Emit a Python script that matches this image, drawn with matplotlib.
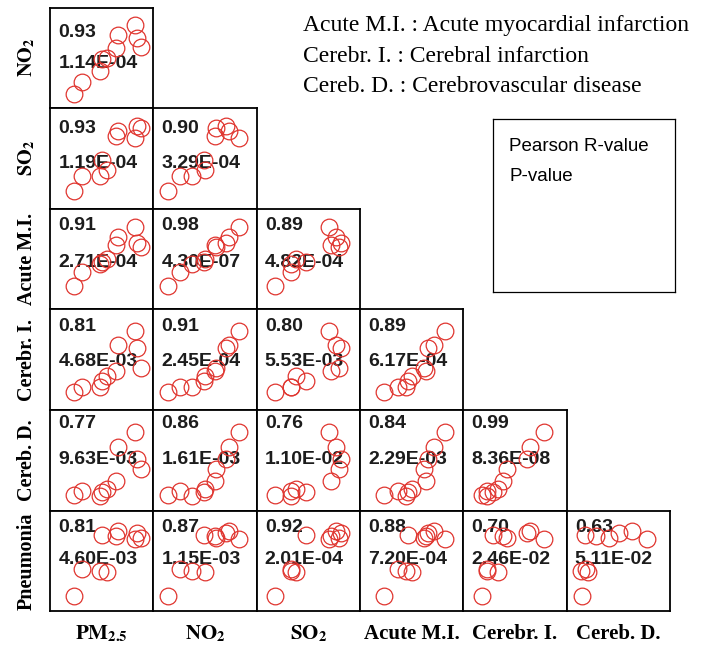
import matplotlib.pyplot as plt

plt.rcParams['mathtext.fontset'] = 'stix'

pm25 = [0.23, 0.31, 0.48, 0.50, 0.55, 0.64, 0.66, 0.82, 0.84, 0.88]
no2 = [0.14, 0.26, 0.37, 0.49, 0.50, 0.60, 0.73, 0.83, 0.70, 0.61]
so2 = [0.18, 0.33, 0.33, 0.48, 0.38, 0.72, 0.77, 0.70, 0.82, 0.80]
ami = [0.23, 0.37, 0.45, 0.47, 0.50, 0.64, 0.72, 0.82, 0.66, 0.62]
ci = [0.18, 0.23, 0.23, 0.29, 0.34, 0.39, 0.65, 0.78, 0.62, 0.42]
cd = [0.15, 0.19, 0.14, 0.18, 0.21, 0.29, 0.63, 0.78, 0.51, 0.41]
pneu = [0.15, 0.42, 0.40, 0.76, 0.39, 0.75, 0.80, 0.72, 0.78, 0.73]

variables = [pm25, no2, so2, ami, ci, cd, pneu]

col_labels = [r'$\mathbf{PM}_{\mathbf{2.5}}$', r'$\mathbf{NO}_{\mathbf{2}}$',
              r'$\mathbf{SO}_{\mathbf{2}}$', 'Acute M.I.', 'Cerebr. I.', 'Cereb. D.']
row_labels = [r'$\mathbf{NO}_{\mathbf{2}}$', r'$\mathbf{SO}_{\mathbf{2}}$',
              'Acute M.I.', 'Cerebr. I.', 'Cereb. D.', 'Pneumonia']

r_vals = [["0.93"],
          ["0.93", "0.90"],
          ["0.91", "0.98", "0.89"],
          ["0.81", "0.91", "0.80", "0.89"],
          ["0.77", "0.86", "0.76", "0.84", "0.99"],
          ["0.81", "0.87", "0.92", "0.88", "0.70", "0.63"]]
p_vals = [["1.14E-04"],
          ["1.19E-04", "3.29E-04"],
          ["2.71E-04", "4.30E-07", "4.82E-04"],
          ["4.68E-03", "2.45E-04", "5.53E-03", "6.17E-04"],
          ["9.63E-03", "1.61E-03", "1.10E-02", "2.29E-03", "8.36E-08"],
          ["4.60E-03", "1.15E-03", "2.01E-04", "7.20E-04", "2.46E-02", "5.11E-02"]]

notes = ["Acute M.I. : Acute myocardial infarction",
         "Cerebr. I. : Cerebral infarction",
         "Cereb. D. : Cerebrovascular disease"]

W, H = 712, 646
fig = plt.figure(figsize=(W / 100, H / 100), dpi=100)

x0, cw = 50, 103.3
y0, ch = 7.5, 100.6
r_text_y = [0.75, 0.80, 0.83, 0.83, 0.86, 0.83]
p_text_y = [0.44, 0.45, 0.47, 0.48, 0.51, 0.51]

for r in range(6):
    for c in range(r + 1):
        left = x0 + c * cw
        top = y0 + r * ch
        ax = fig.add_axes([left / W, 1 - (top + ch) / H, cw / W, ch / H])
        ax.plot(variables[c], variables[r + 1], 'o', ms=12, mfc='none',
                mec='#e0352f', mew=0.9, zorder=3)
        ax.set_xlim(0, 1)
        ax.set_ylim(0, 1)
        ax.set_xticks([])
        ax.set_yticks([])
        for s in ax.spines.values():
            s.set_linewidth(1.3)
            s.set_color('black')
        ax.text(0.08, r_text_y[r], r_vals[r][c], transform=ax.transAxes,
                family='Liberation Sans', fontsize=14, fontweight='bold',
                color='#1c1c1c', va='center', ha='left', zorder=2)
        ax.text(0.08, p_text_y[r], p_vals[r][c], transform=ax.transAxes,
                family='Liberation Sans', fontsize=14, fontweight='bold',
                color='#1c1c1c', va='center', ha='left', zorder=2)

for r, lab in enumerate(row_labels):
    yc = y0 + (r + 0.5) * ch
    fig.text(27 / W, 1 - yc / H, lab, rotation=90, ha='center', va='center',
             family='Liberation Serif', fontweight='bold', fontsize=14.5)

for c, lab in enumerate(col_labels):
    xc = x0 + (c + 0.5) * cw
    fig.text(xc / W, 1 - 634 / H, lab, ha='center', va='center',
             family='Liberation Serif', fontweight='bold', fontsize=15)

for i, line in enumerate(notes):
    fig.text(303 / W, 1 - (26 + i * 30.5) / H, line, ha='left', va='center',
             family='Liberation Serif', fontsize=17)

box = fig.add_axes([493 / W, 1 - 292 / H, 182 / W, 173 / H])
box.set_xticks([])
box.set_yticks([])
for s in box.spines.values():
    s.set_linewidth(0.9)
box.text(0.09, 0.84, "Pearson R-value", transform=box.transAxes,
         family='Liberation Sans', fontsize=13.5, va='center')
box.text(0.09, 0.67, "P-value", transform=box.transAxes,
         family='Liberation Sans', fontsize=13.5, va='center')

fig.savefig('out.png', dpi=100)
